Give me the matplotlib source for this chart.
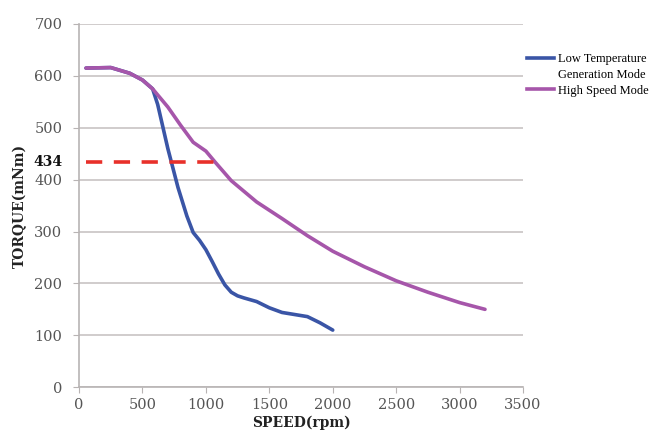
import numpy as np
import matplotlib.pyplot as plt
from matplotlib.lines import Line2D

# data
low_temp_speed = [55, 250, 400, 500, 580, 620, 700, 780, 850, 900, 950, 1000, 1050, 1100, 1150, 1200, 1250, 1300, 1400, 1500, 1600, 1700, 1800, 1900, 2000]
low_temp_torque = [615, 616, 605, 592, 575, 545, 460, 385, 330, 298, 283, 265, 242, 218, 197, 183, 176, 172, 165, 153, 144, 140, 136, 124, 110]

high_speed_speed = [55, 250, 400, 500, 580, 700, 800, 900, 1000, 1072, 1200, 1400, 1600, 1800, 2000, 2250, 2500, 2750, 3000, 3200]
high_speed_torque = [615, 616, 605, 592, 575, 540, 505, 472, 455, 434, 398, 357, 325, 292, 262, 232, 205, 183, 163, 150]

ref_speed = [55, 1072]
ref_torque = 434

blue = '#3a55a6'
purple = '#a656aa'

plt.rcParams['font.family'] = ['DejaVu Serif']

fig = plt.figure(figsize=(6.53, 4.36), dpi=100)
ax = fig.add_axes([0.121, 0.112, 0.680, 0.833])

ax.plot(low_temp_speed, low_temp_torque, color=blue, lw=2.6, solid_capstyle='round')
ax.plot(high_speed_speed, high_speed_torque, color=purple, lw=2.6, solid_capstyle='round')
ax.plot(ref_speed, [ref_torque, ref_torque], color='#e8302a', lw=2.6, dashes=(4.5, 3.2))

ax.set_xlim(0, 3500)
ax.set_ylim(0, 700)
ax.set_xticks(np.arange(0, 3501, 500))
ax.set_yticks(np.arange(0, 701, 100))
ax.yaxis.grid(True, color='#c8c4c4', lw=1.2)
ax.set_axisbelow(True)
for s in ['top', 'right']:
    ax.spines[s].set_visible(False)
for s in ['left', 'bottom']:
    ax.spines[s].set_color('#b8b4b4')
    ax.spines[s].set_linewidth(1.2)
ax.tick_params(colors='#b8b4b4', labelcolor='#555555', labelsize=10.5, length=4)
ax.tick_params(axis='y', pad=8)

ax.annotate('434', xy=(0, ref_torque), xycoords=('axes fraction', 'data'),
            xytext=(-17, 0), textcoords='offset pixels', ha='right', va='center',
            fontsize=10, fontweight='bold', color='#111111')

ax.set_xlabel('SPEED(rpm)', fontsize=10, fontweight='bold', color='#222222', labelpad=3)
ax.set_ylabel('TORQUE(mNm)', fontsize=10, fontweight='bold', color='#222222', labelpad=5)

# legend: handle sits beside the first line of the two-line label
handles = [Line2D([], [], color=blue, lw=2.6),
           Line2D([], [], color='none', lw=0),
           Line2D([], [], color=purple, lw=2.6)]
labels = ['Low Temperature', 'Generation Mode', 'High Speed Mode']
ax.legend(handles, labels, loc='upper left', bbox_to_anchor=(1.008, 0.92), frameon=False,
          prop={'family': 'Liberation Serif', 'size': 9}, handlelength=2.2,
          handletextpad=0.3, labelspacing=0.3, borderaxespad=0, borderpad=0)

fig.savefig('out.png', dpi=100)
